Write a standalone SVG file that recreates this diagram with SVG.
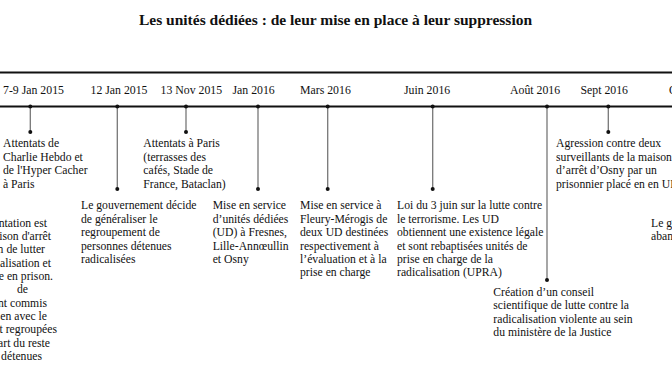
<svg xmlns="http://www.w3.org/2000/svg" width="672" height="372" viewBox="0 0 672 372">
<style>
text{font-family:"Liberation Serif","Times New Roman",serif;fill:#111;}
.t{font-size:15.5px;font-weight:bold;}
.d{font-size:11.8px;}
.b{font-size:11.7px;}
.band{stroke:#111;stroke-width:2;fill:none;}
.stem{stroke:#777;stroke-width:1.3;fill:none;}
.dot{fill:#111;}
</style>
<rect width="672" height="372" fill="#fff"/>
<text class="t" x="335.5" y="25" text-anchor="middle">Les unités dédiées : de leur mise en place à leur suppression</text>
<g id="band">
<line class="band" x1="0" y1="72.5" x2="672" y2="72.5"/>
<line class="band" x1="0" y1="106.5" x2="672" y2="106.5"/>
</g>
<g id="dates">
<text class="d" x="3" y="94">7-9 Jan 2015</text>
<text class="d" x="90.5" y="94">12 Jan 2015</text>
<text class="d" x="160.5" y="94">13 Nov 2015</text>
<text class="d" x="232.5" y="94">Jan 2016</text>
<text class="d" x="300" y="94">Mars 2016</text>
<text class="d" x="404" y="94">Juin 2016</text>
<text class="d" x="510" y="94">Août 2016</text>
<text class="d" x="580.5" y="94">Sept 2016</text>
<text class="d" x="669" y="94">Oct 2016</text>
</g>
<g id="connectors">
<line class="stem" x1="30.3" y1="106.5" x2="30.3" y2="132"/>
<line class="stem" x1="117.3" y1="106.5" x2="117.3" y2="189"/>
<line class="stem" x1="186" y1="106.5" x2="186" y2="132"/>
<line class="stem" x1="258" y1="106.5" x2="258" y2="189"/>
<line class="stem" x1="327.7" y1="106.5" x2="327.7" y2="189"/>
<line class="stem" x1="432.7" y1="106.5" x2="432.7" y2="189"/>
<line class="stem" x1="547" y1="106.5" x2="547" y2="280"/>
<line class="stem" x1="608.3" y1="106.5" x2="608.3" y2="132"/>
<g class="dot">
<circle cx="30.3" cy="106.5" r="2"/><circle cx="30.3" cy="132" r="2"/>
<circle cx="117.3" cy="106.5" r="2"/><circle cx="117.3" cy="189" r="2"/>
<circle cx="186" cy="106.5" r="2"/><circle cx="186" cy="132" r="2"/>
<circle cx="258" cy="106.5" r="2"/><circle cx="258" cy="189" r="2"/>
<circle cx="327.7" cy="106.5" r="2"/><circle cx="327.7" cy="189" r="2"/>
<circle cx="432.7" cy="106.5" r="2"/><circle cx="432.7" cy="189" r="2"/>
<circle cx="547" cy="106.5" r="2"/><circle cx="547" cy="280" r="2"/>
<circle cx="608.3" cy="106.5" r="2"/><circle cx="608.3" cy="132" r="2"/>
</g>
</g>
<g id="n-early" class="b">
<text class="b" x="47" y="226.5" text-anchor="end">ntation est</text>
<text class="b" x="51" y="240" text-anchor="end">ison d'arrêt</text>
<text class="b" x="45" y="253.3" text-anchor="end">n de lutter</text>
<text class="b" x="51" y="266.7" text-anchor="end">alisation et</text>
<text class="b" x="53" y="280" text-anchor="end">e en prison.</text>
<text class="b" x="28" y="293.3" text-anchor="end">de</text>
<text class="b" x="47" y="306.7" text-anchor="end">nt commis</text>
<text class="b" x="47" y="320" text-anchor="end">en avec le</text>
<text class="b" x="57" y="333.3" text-anchor="end">t regroupées</text>
<text class="b" x="50" y="346.7" text-anchor="end">art du reste</text>
<text class="b" x="42" y="360" text-anchor="end">détenues</text>
</g>
<g id="n-jan2015">
<text class="b" x="3" y="147"><tspan x="3">Attentats de</tspan><tspan x="3" dy="13.5">Charlie Hebdo et</tspan><tspan x="3" dy="13.5">de l'Hyper Cacher</tspan><tspan x="3" dy="13.5">à Paris</tspan></text>
</g>
<g id="n-12jan2015">
<text class="b" x="81" y="209.3"><tspan x="81">Le gouvernement décide</tspan><tspan x="81" dy="13.4">de généraliser le</tspan><tspan x="81" dy="13.4">regroupement de</tspan><tspan x="81" dy="13.4">personnes détenues</tspan><tspan x="81" dy="13.4">radicalisées</tspan></text>
</g>
<g id="n-nov2015">
<text class="b" x="143.3" y="147"><tspan x="143.3">Attentats à Paris</tspan><tspan x="143.3" dy="13.5">(terrasses des</tspan><tspan x="143.3" dy="13.5">cafés, Stade de</tspan><tspan x="143.3" dy="13.5">France, Bataclan)</tspan></text>
</g>
<g id="n-jan2016">
<text class="b" x="212.7" y="209.3"><tspan x="212.7">Mise en service</tspan><tspan x="212.7" dy="13.4">d’unités dédiées</tspan><tspan x="212.7" dy="13.4">(UD) à Fresnes,</tspan><tspan x="212.7" dy="13.4">Lille-Annœullin</tspan><tspan x="212.7" dy="13.4">et Osny</tspan></text>
</g>
<g id="n-mars2016">
<text class="b" x="300" y="209.3"><tspan x="300">Mise en service à</tspan><tspan x="300" dy="13.4">Fleury-Mérogis de</tspan><tspan x="300" dy="13.4">deux UD destinées</tspan><tspan x="300" dy="13.4">respectivement à</tspan><tspan x="300" dy="13.4">l’évaluation et à la</tspan><tspan x="300" dy="13.4">prise en charge</tspan></text>
</g>
<g id="n-juin2016">
<text class="b" x="397" y="209.3"><tspan x="397">Loi du 3 juin sur la lutte contre</tspan><tspan x="397" dy="13.4">le terrorisme. Les UD</tspan><tspan x="397" dy="13.4">obtiennent une existence légale</tspan><tspan x="397" dy="13.4">et sont rebaptisées unités de</tspan><tspan x="397" dy="13.4">prise en charge de la</tspan><tspan x="397" dy="13.4">radicalisation (UPRA)</tspan></text>
</g>
<g id="n-aout2016">
<text class="b" x="493.3" y="296"><tspan x="493.3">Création d’un conseil</tspan><tspan x="493.3" dy="13.4">scientifique de lutte contre la</tspan><tspan x="493.3" dy="13.4">radicalisation violente au sein</tspan><tspan x="493.3" dy="13.4">du ministère de la Justice</tspan></text>
</g>
<g id="n-sept2016">
<text class="b" x="556" y="147"><tspan x="556">Agression contre deux</tspan><tspan x="556" dy="13.5">surveillants de la maison</tspan><tspan x="556" dy="13.5">d’arrêt d’Osny par un</tspan><tspan x="556" dy="13.5">prisonnier placé en en UD</tspan></text>
</g>
<g id="n-oct2016">
<text class="b" x="651" y="227"><tspan x="651">Le gouvernement</tspan><tspan x="651" dy="13">abandonne</tspan></text>
</g>
</svg>
